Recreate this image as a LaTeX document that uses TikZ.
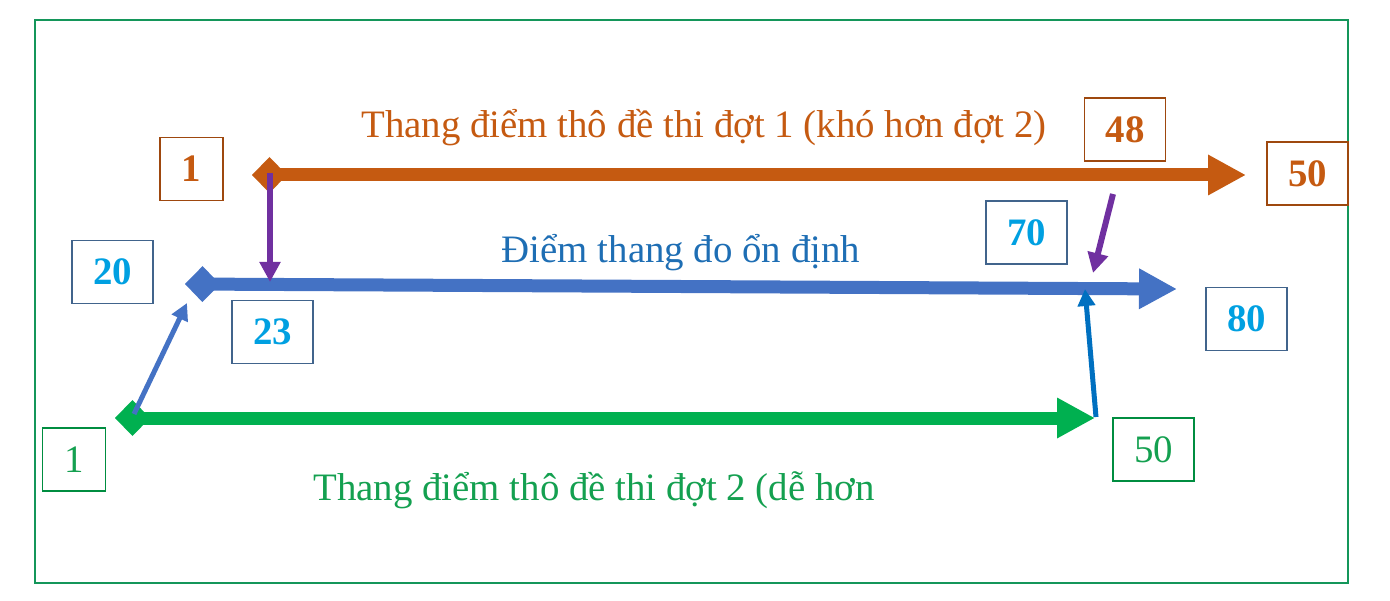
\documentclass[tikz,border=0pt]{standalone}
\usepackage{fontspec}
\setmainfont{Liberation Serif}
\usetikzlibrary{arrows.meta}
\definecolor{orng}{RGB}{197,90,17}
\definecolor{bline}{RGB}{68,114,196}
\definecolor{btext}{RGB}{30,110,180}
\definecolor{cyannum}{RGB}{0,160,225}
\definecolor{grn}{RGB}{0,176,80}
\definecolor{grntext}{RGB}{20,160,80}
\definecolor{purp}{RGB}{112,48,160}
\definecolor{dblue}{RGB}{0,112,192}
\definecolor{framec}{RGB}{20,150,90}
\definecolor{bborder}{RGB}{65,100,140}
\tikzset{
  numbox/.style={draw, line width=0.6bp, minimum width=40.5bp, minimum height=31.5bp, inner sep=0pt,
     font=\fontsize{19.5}{23}\selectfont},
  narrow/.style={minimum width=31.5bp},
  obox/.style={numbox, draw=orng!80!black, text=orng, font=\fontsize{19.5}{23}\selectfont\bfseries},
  bbox/.style={numbox, draw=bborder, text=cyannum, font=\fontsize{19.5}{23}\selectfont\bfseries},
  gbox/.style={numbox, draw=grn!80!black, text=grntext},
  title/.style={anchor=base, inner sep=0pt, font=\fontsize{19.5}{23}\selectfont},
  startdiamond/.style={{Diamond[length=17.5bp,width=18bp]}-{Triangle[length=19bp,width=19bp]}},
  link/.style={line width=3bp, -{Triangle[length=10bp,width=10bp]}},
  thin link/.style={line width=2.5bp, -{Triangle[length=8.5bp,width=8.5bp]}}
}
\begin{document}
\begin{tikzpicture}[x=0.5bp,y=-0.5bp]
\useasboundingbox (0,0) rectangle (1390,601);
\draw[framec, line width=1bp] (35,20) rectangle (1348,583);

% number boxes
\node[obox, narrow] (o1)  at (191.5,169)  {1};
\node[obox] (o48) at (1125,129.5) {48};
\node[obox] (o50) at (1307.5,173.5) {50};
\node[bbox] (b20) at (112.5,272) {20};
\node[bbox] (b23) at (272.5,332) {23};
\node[bbox] (b70) at (1026.5,232.5) {70};
\node[bbox] (b80) at (1246.5,319) {80};
\node[gbox, narrow] (g1)  at (74,459.5) {1};
\node[gbox] (g50) at (1153.5,449.5) {50};

% titles
\node[title, text=orng] (ot) at (704,138) {Thang điểm thô đề thi đợt 1 (khó hơn đợt 2)};
\node[title, text=btext] (bt) at (681,263) {Điểm thang đo ổn định};
\node[title, text=grntext] (gt) at (594,500) {Thang điểm thô đề thi đợt 2 (dễ hơn};

% scale end points
\coordinate (os) at (252,175);
\coordinate (oe) at (1246,175);
\coordinate (bs) at (185,284);
\coordinate (be) at (1177,289);
\coordinate (gs) at (115,418);
\coordinate (ge) at (1095,418);

\draw[orng, line width=6.5bp, startdiamond] (os) -- (oe);
\draw[bline, line width=6.5bp, startdiamond] (bs) -- (be);
\draw[grn, line width=6.5bp, startdiamond] (gs) -- (ge);

% links
\coordinate (p1s) at (270,173);
\coordinate (p1e) at (270,282);
\coordinate (p2s) at (1113,194);
\coordinate (p2e) at (1093,273);
\coordinate (d1s) at (1096,417);
\coordinate (d1e) at (1085,289);
\coordinate (l1s) at (134,414);
\coordinate (l1e) at (187,303);

\draw[purp, link] (p1s) -- (p1e);
\draw[purp, link] (p2s) -- (p2e);
\draw[dblue, thin link] (d1s) -- (d1e);
\draw[bline, thin link] (l1s) -- (l1e);
\end{tikzpicture}
\end{document}
